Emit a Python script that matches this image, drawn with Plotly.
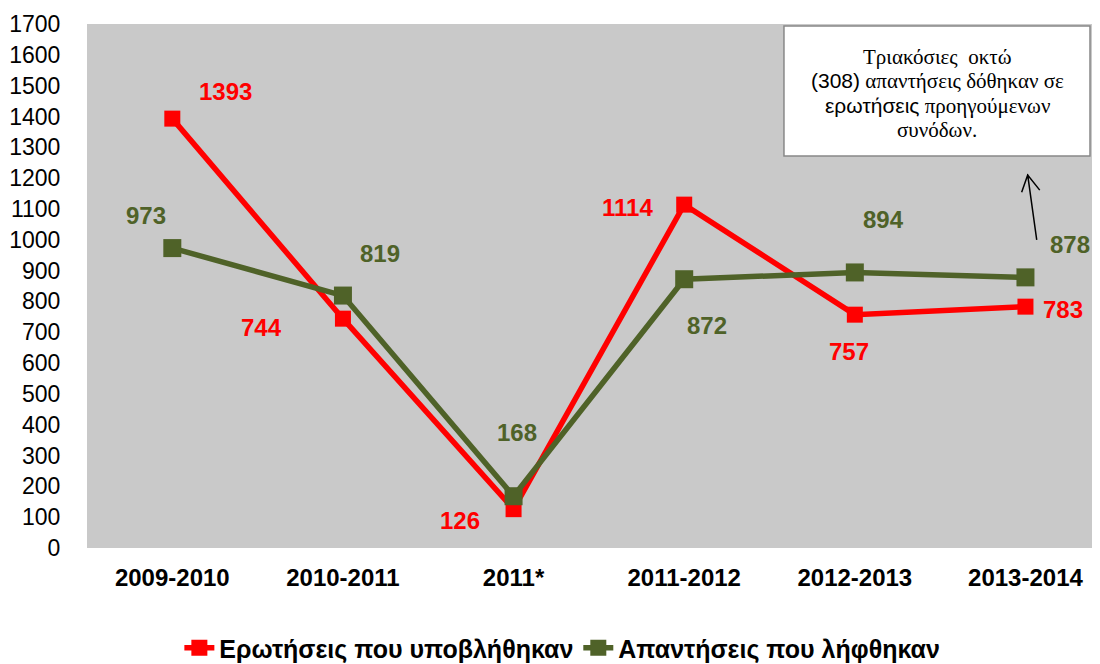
import plotly.graph_objects as go

# data
periods = ['2009-2010', '2010-2011', '2011*', '2011-2012', '2012-2013', '2013-2014']
questions = [1393, 744, 126, 1114, 757, 783]
answers = [973, 819, 168, 872, 894, 878]
y_ticks = list(range(0, 1800, 100))

# label offsets in pixels (xshift, yshift)
q_shift = [(53, 27), (-81, -9), (-54, -11), (-57, -3), (-6, -37), (38, -3)]
a_shift = [(-26, 33), (37, 42), (3, 64), (23, -46), (29, 53), (45, 33)]

note_lines = [
    'Τριακόσιες  οκτώ',
    '<span style="font-family:Arial">(308)</span> απαντήσεις δόθηκαν σε',
    '<span style="font-family:Arial">ερωτήσεις</span> προηγούμενων',
    'συνόδων.',
]

RED = '#ff0000'
GREEN = '#4f6228'

fig = go.Figure()
fig.add_trace(go.Scatter(
    x=periods, y=questions, mode='lines+markers', name='Ερωτήσεις που υποβλήθηκαν',
    line=dict(color=RED, width=5.5), marker=dict(symbol='square', size=16, color=RED)
))
fig.add_trace(go.Scatter(
    x=periods, y=answers, mode='lines+markers', name='Απαντήσεις που λήφθηκαν',
    line=dict(color=GREEN, width=5.5), marker=dict(symbol='square', size=18, color=GREEN)
))

# data labels
for vals, shifts, col in [(questions, q_shift, RED), (answers, a_shift, GREEN)]:
    for p, v, (dx, dy) in zip(periods, vals, shifts):
        fig.add_annotation(x=p, y=v, text=str(v), showarrow=False, xshift=dx, yshift=dy,
                           font=dict(family='Arial', size=24, color=col, weight='bold'))

# note box
fig.add_shape(type='rect', xref='paper', yref='paper', x0=0.6935, x1=0.998, y0=0.748, y1=0.996,
              fillcolor='white', line=dict(color='#888888', width=1.5), layer='above')
serif = 'Liberation Serif, Times New Roman, serif'
for i, line in enumerate(note_lines):
    fig.add_annotation(xref='paper', yref='paper', x=0.846, y=0.937 - i * 0.0465,
                       xanchor='center', yanchor='middle', text=line, showarrow=False,
                       font=dict(family=serif, size=21, color='black'))

# arrow pointing up to the note
fig.add_shape(type='path', xref='paper', yref='paper',
              path='M 0.945 0.588 L 0.936 0.712 M 0.930 0.679 L 0.936 0.712 L 0.948 0.683',
              line=dict(color='black', width=1.5))

# page body has an 8px margin; figure is a bit taller than the window so the legend sits low
fig.update_layout(
    width=1084, height=690,
    margin=dict(l=79, r=0, t=16, b=150),
    paper_bgcolor='white', plot_bgcolor='#c9c9c9',
    font=dict(family='Arial', color='black'),
    showlegend=True,
    legend=dict(orientation='h', x=0.473, xanchor='center', y=-0.191, yanchor='middle',
                font=dict(family='Arial', size=25, color='black', weight='bold'),
                tracegroupgap=0),
)
fig.update_xaxes(range=[-0.5, 5.39], showgrid=False, zeroline=False, showline=False,
                 ticks='outside', ticklen=0, ticklabelstandoff=8,
                 tickfont=dict(family='Arial', size=24, color='black', weight='bold'))
fig.update_yaxes(range=[0, 1700], tickvals=y_ticks, showgrid=False, zeroline=False, showline=False,
                 ticks='outside', ticklen=0, ticklabelstandoff=21,
                 tickfont=dict(family='Arial', size=23, color='black'))

fig.write_html('out.html')
